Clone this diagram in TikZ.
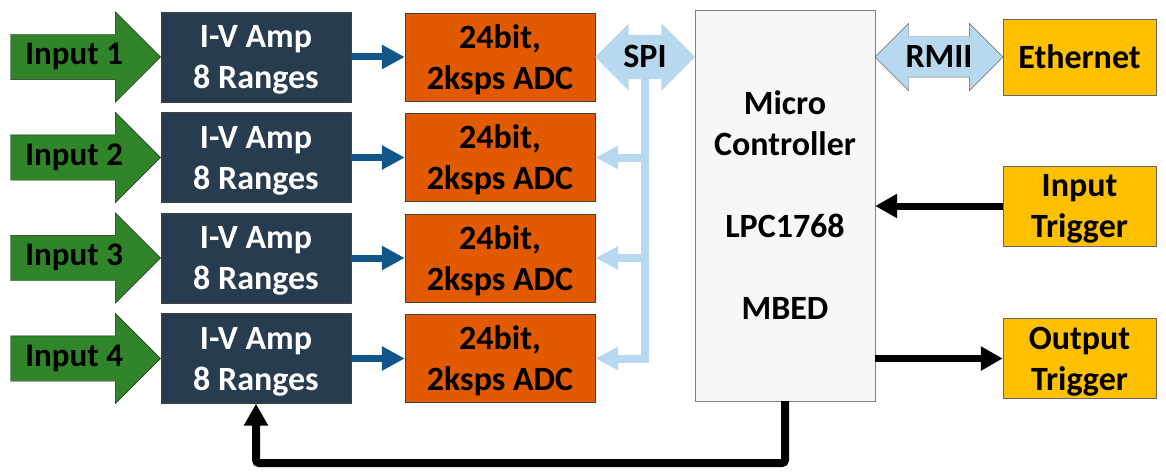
\documentclass[tikz,border=0pt]{standalone}
\usepackage{fontspec}
\setmainfont{Carlito}
\usetikzlibrary{shapes.arrows,arrows.meta}
\definecolor{ingreen}{RGB}{48,133,42}
\definecolor{ampblue}{RGB}{40,60,80}
\definecolor{adcorange}{RGB}{225,90,0}
\definecolor{linkblue}{RGB}{184,216,240}
\definecolor{datablue}{RGB}{16,86,136}
\definecolor{gold}{RGB}{255,192,0}

\begin{document}
\begin{tikzpicture}[x=1pt,y=-1pt,
  every node/.style={font=\bfseries\fontsize{34}{41}\selectfont,align=center},
  inarrow/.style={single arrow,draw=black!85,fill=ingreen,font=\bfseries\fontsize{33}{40}\selectfont,
    text height=22,text depth=7,inner ysep=8,minimum height=150,
    single arrow head extend=22.5,single arrow tip angle=90,anchor=tip},
  amp/.style={draw=black!75,fill=ampblue,text=white,minimum width=190,minimum height=90,text depth=0},
  adc/.style={draw=black!75,fill=adcorange,minimum width=190,minimum height=88,text depth=0},
  link/.style={double arrow,fill=linkblue,text height=23,text depth=1,inner ysep=10,
    double arrow tip angle=90},
  io/.style={draw=black!60,fill=gold,minimum width=153,minimum height=80,text depth=0},
  data/.style={datablue,line width=7,-{Triangle[length=23,width=23]}},
  bus/.style={linkblue,line width=8},
  trig/.style={black,line width=7,-{Triangle[length=22,width=23]}}]
  \useasboundingbox (0,0) rectangle (1166,476);

  \node[amp] (amp1) at (256,57) {I-V Amp\\8 Ranges};
  \node[amp] (amp2) at (256,157.5) {I-V Amp\\8 Ranges};
  \node[amp] (amp3) at (256,258) {I-V Amp\\8 Ranges};
  \node[amp] (amp4) at (256,358.5) {I-V Amp\\8 Ranges};
  \node[inarrow] (in1) at (amp1.west) {Input 1};
  \node[inarrow] (in2) at (amp2.west) {Input 2};
  \node[inarrow] (in3) at (amp3.west) {Input 3};
  \node[inarrow] (in4) at (amp4.west) {Input 4};
  \node[adc] (adc1) at (500,57) {24bit,\\2ksps ADC};
  \node[adc] (adc2) at (500,157.5) {24bit,\\2ksps ADC};
  \node[adc] (adc3) at (500,258) {24bit,\\2ksps ADC};
  \node[adc] (adc4) at (500,358.5) {24bit,\\2ksps ADC};
  \node[draw=black!50,fill=black!3,minimum width=180,minimum height=391] (mcu) at (785,205.5)
    {Micro\\Controller\\[41pt]LPC1768\\[41pt]MBED};
  \node[io,minimum height=76] (eth) at (1079.5,57) {Ethernet};
  \node[io] (intrig) at (1079.5,206) {Input\\Trigger};
  \node[io] (outtrig) at (1079.5,358.5) {Output\\Trigger};

  % links
  \draw[bus] (645,70) -- (645,358.5) -- (610,358.5);
  \draw[bus] (645,157.5) -- (610,157.5);
  \draw[bus] (645,258) -- (610,258);
  \node[link,minimum height=100,double arrow head extend=11.5] (spi) at (645,57) {SPI};
  \node[link,draw=black!60,minimum height=128,double arrow head extend=13.5,inner ysep=8] (rmii) at (939,57) {RMII};
  \draw[bus,-{Triangle[length=23,width=22]}] (spi.south |- adc2.east) -- (adc2.east);
  \draw[bus,-{Triangle[length=23,width=22]}] (spi.south |- adc3.east) -- (adc3.east);
  \draw[bus,-{Triangle[length=23,width=22]}] (spi.south |- adc4.east) -- (adc4.east);

  \draw[data] (amp1) -- (adc1);
  \draw[data] (amp2) -- (adc2);
  \draw[data] (amp3) -- (adc3);
  \draw[data] (amp4) -- (adc4);

  \draw[trig] (intrig.west) -- (intrig.west -| mcu.east);
  \draw[trig] (mcu.east |- outtrig.west) -- (outtrig.west);
  \coordinate (fb) at (785,463);
  \draw[trig,line width=8,rounded corners=3] (mcu.south) -- (fb) -| (amp4.south);
\end{tikzpicture}
\end{document}
